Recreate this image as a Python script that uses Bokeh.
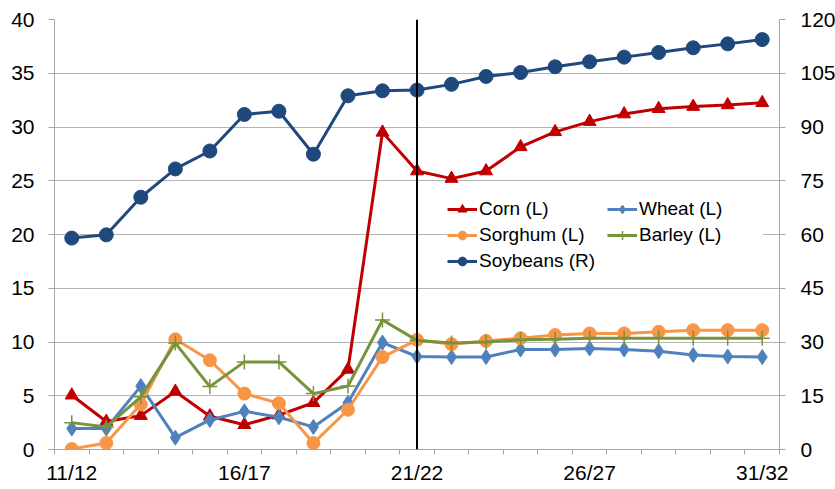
from bokeh.plotting import figure
from bokeh.models import Range1d, LinearAxis, FixedTicker, Span, Legend, LegendItem
from bokeh.embed import file_html
from bokeh.resources import INLINE

years = ["11/12", "12/13", "13/14", "14/15", "15/16", "16/17", "17/18", "18/19", "19/20", "20/21",
         "21/22", "22/23", "23/24", "24/25", "25/26", "26/27", "27/28", "28/29", "29/30", "30/31", "31/32"]
corn = [5.05, 2.6, 3.15, 5.4, 3.1, 2.3, 3.2, 4.35, 7.45, 29.5,
        25.9, 25.2, 25.9, 28.15, 29.55, 30.5, 31.2, 31.7, 31.9, 32.05, 32.25]
wheat = [1.95, 1.95, 5.9, 1.1, 2.75, 3.55, 3.0, 2.1, 4.35, 9.95,
         8.65, 8.6, 8.6, 9.3, 9.3, 9.4, 9.3, 9.15, 8.8, 8.65, 8.6]
sorghum = [0.05, 0.6, 4.2, 10.25, 8.3, 5.2, 4.3, 0.6, 3.7, 8.6,
           10.2, 9.8, 10.1, 10.35, 10.65, 10.8, 10.8, 10.95, 11.1, 11.1, 11.1]
barley = [2.5, 2.1, 4.9, 9.9, 5.85, 8.15, 8.15, 5.2, 5.9, 12.05,
          10.15, 9.9, 10.0, 10.2, 10.25, 10.35, 10.35, 10.35, 10.35, 10.35, 10.35]
soybeans = [59.0, 59.9, 70.4, 78.3, 83.3, 93.5, 94.4, 82.4, 98.7, 100.1,
            100.3, 101.9, 104.1, 105.2, 106.8, 108.2, 109.5, 110.8, 112.1, 113.2, 114.4]
left_ticks = [0, 5, 10, 15, 20, 25, 30, 35, 40]
right_ticks = [0, 15, 30, 45, 60, 75, 90, 105, 120]
label_every = 5
divider_year = "21/22"

x = list(range(len(years)))
FONT = "Liberation Sans"
GRID = "#B4B4B4"
AXIS = "#A6A6A6"

p = figure(frame_width=725, frame_height=430, output_backend="svg", toolbar_location=None,
           x_range=Range1d(-0.5, len(years) - 0.5), y_range=Range1d(left_ticks[0], left_ticks[-1]),
           min_border_left=54, min_border_right=56, min_border_top=19, min_border_bottom=40)
p.extra_y_ranges = {"right": Range1d(right_ticks[0], right_ticks[-1])}
p.outline_line_color = None
p.background_fill_color = "white"
p.border_fill_color = "white"

# x axis
xt = [i for i in x if i % label_every == 0]
p.xaxis.ticker = FixedTicker(ticks=xt, minor_ticks=[i - 0.5 for i in range(len(years) + 1)])
p.xaxis.major_label_overrides = {i: years[i] for i in xt}
p.xaxis.major_tick_line_color = None
p.xaxis.major_tick_out = 5
p.xaxis.major_tick_in = 0
p.xaxis.minor_tick_out = 5
p.xaxis.minor_tick_in = 0
p.xaxis.minor_tick_line_color = AXIS
p.xaxis.axis_line_color = AXIS
p.xaxis.major_label_standoff = 6
p.xgrid.grid_line_color = None

# left axis
p.yaxis.ticker = FixedTicker(ticks=left_ticks)
p.yaxis.major_tick_out = 6
p.yaxis.major_tick_in = 0
p.yaxis.minor_tick_line_color = None
p.yaxis.major_tick_line_color = AXIS
p.yaxis.axis_line_color = AXIS
p.yaxis.major_label_standoff = 14
p.ygrid.ticker = FixedTicker(ticks=left_ticks)
p.ygrid.grid_line_color = GRID

# right axis
ra = LinearAxis(y_range_name="right", ticker=FixedTicker(ticks=right_ticks))
ra.major_tick_out = 6
ra.major_tick_in = 0
ra.minor_tick_line_color = None
ra.major_tick_line_color = AXIS
ra.axis_line_color = AXIS
ra.major_label_standoff = 15
p.add_layout(ra, "right")

for ax in [p.xaxis[0], p.yaxis[0], ra]:
    ax.major_label_text_font = FONT
    ax.major_label_text_font_size = "21px"
    ax.major_label_text_color = "black"

# divider line
p.add_layout(Span(location=years.index(divider_year), dimension="height", line_color="black", line_width=2))

LW = 3
c_corn, c_wheat, c_sorg, c_barl, c_soy = "#C00000", "#4F81BD", "#F79646", "#77933C", "#1F497D"

l1 = p.line(x, corn, line_color=c_corn, line_width=LW)
m1 = p.scatter(x, corn, marker="triangle", size=13, fill_color=c_corn, line_color=c_corn)
l2 = p.line(x, wheat, line_color=c_wheat, line_width=LW)
m2 = p.scatter(x, wheat, marker="diamond", size=15, fill_color=c_wheat, line_color=c_wheat)
l3 = p.line(x, sorghum, line_color=c_sorg, line_width=LW)
m3 = p.scatter(x, sorghum, marker="circle", size=13, fill_color=c_sorg, line_color=c_sorg)
l4 = p.line(x, barley, line_color=c_barl, line_width=LW)
m4 = p.scatter(x, barley, marker="cross", size=15, line_color=c_barl, line_width=1.5)
l5 = p.line(x, soybeans, line_color=c_soy, line_width=LW, y_range_name="right")
m5 = p.scatter(x, soybeans, marker="circle", size=14, fill_color=c_soy, line_color=c_soy, y_range_name="right")

legend = Legend(items=[
    LegendItem(label="Corn (L)", renderers=[l1, m1]),
    LegendItem(label="Wheat (L)", renderers=[l2, m2]),
    LegendItem(label="Sorghum (L)", renderers=[l3, m3]),
    LegendItem(label="Barley (L)", renderers=[l4, m4]),
    LegendItem(label="Soybeans (R)", renderers=[l5, m5]),
], orientation="horizontal", ncols=2, location=(393, 177),
    label_text_font=FONT, label_text_font_size="19px", label_text_color="black",
    glyph_width=30, glyph_height=22, label_height=22, label_width=124, label_standoff=2,
    spacing=4, padding=5, margin=0,
    border_line_color=None, background_fill_color="white", background_fill_alpha=1.0)
p.add_layout(legend, "center")

open("out.html", "w").write(file_html(p, INLINE))
